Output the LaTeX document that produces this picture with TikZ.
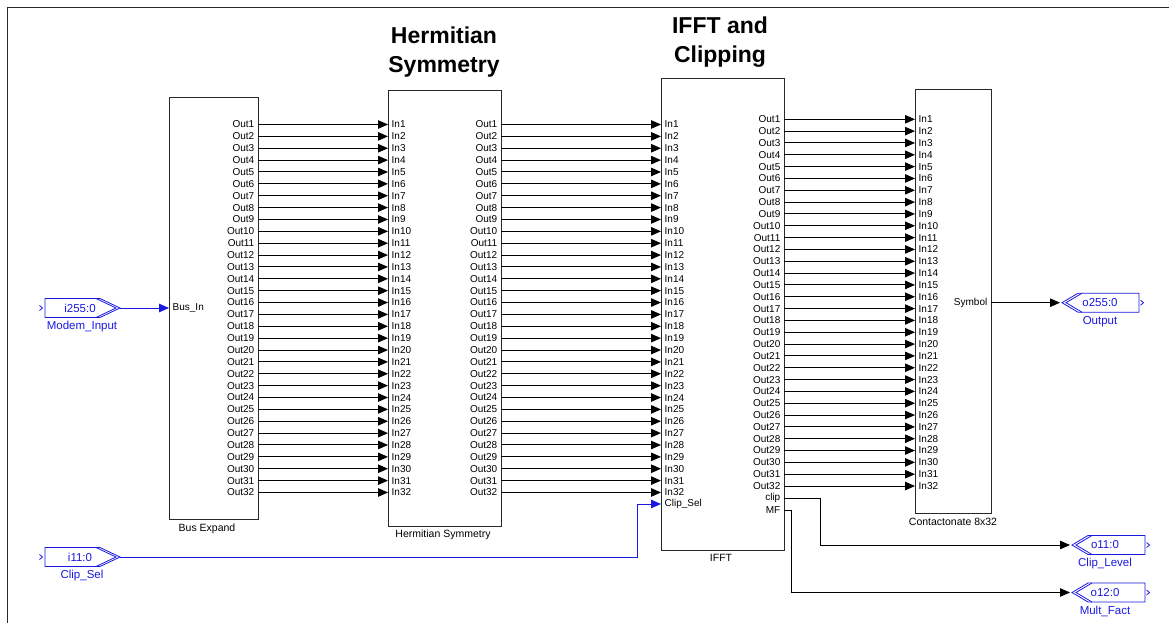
\documentclass[tikz,border=0pt]{standalone}
\usepackage{fontspec}
\setmainfont{Liberation Sans}
\usetikzlibrary{arrows.meta,calc}
\definecolor{portblue}{RGB}{25,25,225}
\definecolor{edge}{RGB}{40,40,40}
\newcommand{\InPortX}[5]{%
 \begin{scope}[shift={(#2,#3)}]
   \draw[pline] (-75,-9.5) -- (-20,-9.5) -- (0,0) -- (-20,9.5) -- (-75,9.5) -- cycle;
   \draw[pline] (-24,-9.5) -- (-4,0) -- (-24,9.5);
   \draw[pline] (-80.5,-2.5) -- (-77.5,0) -- (-80.5,2.5);
   \coordinate (#1) at (0,0);
   \node[ptxt] (#1-t) at (-40,0) {#4};
   \node[ptxt] (#1-l) at (-38,19) {#5};
 \end{scope}}
\newcommand{\OutPortX}[7]{%
 \begin{scope}[shift={(#2,#3)}]
   \draw[pline] (0,0) -- (16,-9.5) -- (#4,-9.5) -- (#4,9.5) -- (16,9.5) -- cycle;
   \draw[pline] (20,-9.5) -- (4,0) -- (20,9.5);
   \draw[pline] ($(#4,0)+(1.5,-2.5)$) -- ($(#4,0)+(4.5,0)$) -- ($(#4,0)+(1.5,2.5)$);
   \coordinate (#1) at (-2,0);
   \node[ptxt] (#1-t) at (#5,0) {#6};
   \node[ptxt] (#1-l) at (#5,18.5) {#7};
 \end{scope}}
\begin{document}
\begin{tikzpicture}[x=1pt,y=-1pt,
  blk/.style={draw=edge,line width=1pt,inner sep=0,outer sep=0,anchor=north west},
  lbl/.style={font=\fontsize{10}{10}\selectfont,inner sep=0},
  blab/.style={font=\fontsize{10.5}{12}\selectfont,inner sep=0},
  title/.style={font=\bfseries\fontsize{23}{29}\selectfont,align=center,inner sep=0},
  wire/.style={draw=black,line width=1pt,-{Triangle[length=10pt,width=8.5pt]}},
  bwire/.style={draw=portblue,line width=1pt,-{Triangle[length=10pt,width=8.5pt]}},
  pline/.style={draw=portblue,line width=0.8pt},
  ptxt/.style={text=portblue,font=\fontsize{11.5}{12}\selectfont,inner sep=0}]
\useasboundingbox (0,0) rectangle (1169,623);
\draw[line width=0.8pt,edge] (7,623) -- (7,7) -- (1169,7);

% titles
\node[title] (t1) at (444,52.5) {Hermitian\\Symmetry};
\node[title] (t2) at (720,42.5) {IFFT and\\Clipping};

% blocks
\node[blk,minimum width=89pt,minimum height=421pt] (be) at (169,98) {};
\node[blk,minimum width=113pt,minimum height=435pt] (hs) at (388,91) {};
\node[blk,minimum width=123pt,minimum height=471pt] (if) at (661,79) {};
\node[blk,minimum width=76pt,minimum height=423pt] (cc) at (915,90) {};

\node[blab] (bel) at (207,529) {Bus Expand};
\node[blab] (hsl) at (443,535) {Hermitian Symmetry};
\node[blab] (ifl) at (721,558) {IFFT};
\node[blab] (ccl) at (953,522) {Contactonate 8x32};

% ports rows
\foreach \k in {1,...,32}{
  \pgfmathsetmacro\ya{124.5+(\k-1)*11.87}
  \pgfmathsetmacro\yb{119.3+(\k-1)*11.83}
  \coordinate (be-o\k) at (258,\ya);
  \coordinate (hs-i\k) at (388,\ya);
  \coordinate (hs-o\k) at (501,\ya);
  \coordinate (if-i\k) at (661,\ya);
  \coordinate (if-o\k) at (784,\yb);
  \coordinate (cc-i\k) at (915,\yb);
  \node[lbl,anchor=east] (be-t\k) at (254.5,\ya) {Out\k};
  \node[lbl,anchor=west] (hs-ti\k) at (391.5,\ya) {In\k};
  \node[lbl,anchor=east] (hs-to\k) at (497.5,\ya) {Out\k};
  \node[lbl,anchor=west] (if-ti\k) at (664.5,\ya) {In\k};
  \node[lbl,anchor=east] (if-to\k) at (780.5,\yb) {Out\k};
  \node[lbl,anchor=west] (cc-ti\k) at (918.5,\yb) {In\k};
  \draw[wire] (be-o\k) -- (hs-i\k);
  \draw[wire] (hs-o\k) -- (if-i\k);
  \draw[wire] (if-o\k) -- (cc-i\k);
}

% extra block ports
\coordinate (be-in) at (169,308);
\node[lbl,anchor=west] (be-tin) at (172.5,308) {Bus\_In};
\coordinate (if-cs) at (661,504);
\node[lbl,anchor=west] (if-tcs) at (664.5,504) {Clip\_Sel};
\coordinate (if-clip) at (784,498);
\node[lbl,anchor=east] (if-tclip) at (780.5,498) {clip};
\coordinate (if-mf) at (784,510);
\node[lbl,anchor=east] (if-tmf) at (780.5,510) {MF};
\coordinate (cc-sym) at (991,302.7);
\node[lbl,anchor=east] (cc-tsym) at (987.5,302.7) {Symbol};

% I/O markers
\InPortX{mi}{120}{308}{i255:0}{Modem\_Input}
\InPortX{cs}{120}{557}{i11:0}{Clip\_Sel}
\OutPortX{op}{1062}{302.7}{77}{38}{o255:0}{Output}
\OutPortX{cl}{1072}{545}{73}{33}{o11:0}{Clip\_Level}
\OutPortX{mf}{1072}{592.5}{73}{33}{o12:0}{Mult\_Fact}

% connections
\draw[bwire] (mi) -- (be-in);
\draw[bwire] (cs) -- ++(517,0) |- (if-cs);
\draw[wire] (cc-sym) -- (op);
\draw[wire] (if-clip) -- ++(36,0) |- (cl);
\draw[wire] (if-mf) -- ++(7,0) |- (mf);
\end{tikzpicture}
\end{document}
